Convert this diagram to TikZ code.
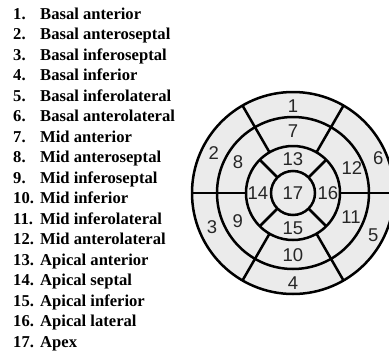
\documentclass[tikz,border=0pt]{standalone}
\usepackage{fontspec}
\setmainfont{Liberation Serif}
\newfontfamily\segfont{Liberation Sans}
\usetikzlibrary{positioning}

\begin{document}
\begin{tikzpicture}[x=1pt,y=1pt,
  ring/.style={line width=2.5pt},
  segnum/.style={font=\segfont\fontsize{18.5}{19}\selectfont,text=black!85,inner sep=0pt},
  item/.style={font=\bfseries\fontsize{16.6}{17}\selectfont,anchor=base west,inner sep=0pt}]
  \useasboundingbox (0,0) rectangle (389,-354);
  \clip (0,0) rectangle (389,-354);
  % list of the 17 segments
  \foreach \t [count=\i] in {Basal anterior,Basal anteroseptal,Basal inferoseptal,Basal inferior,
      Basal inferolateral,Basal anterolateral,Mid anterior,Mid anteroseptal,Mid inferoseptal,
      Mid inferior,Mid inferolateral,Mid anterolateral,Apical anterior,Apical septal,
      Apical inferior,Apical lateral,Apex}
    \node[item] (l\i) at (13,{-19-20.5*(\i-1)}) {\makebox[27pt][l]{\i.}\t};
  % bull's eye
  \coordinate (c) at (293,-193);
  \fill[black!8] (c) circle (101);
  \draw[ring] (c) circle (101) (c) circle (76) (c) circle (47) (c) circle (22);
  \foreach \a in {0,60,120,180,240,300}
    \draw[ring] ([shift={(\a:47)}]c) -- ([shift={(\a:101)}]c);
  \foreach \a in {45,135,225,315}
    \draw[ring] ([shift={(\a:22)}]c) -- ([shift={(\a:47)}]c);
  \foreach \k/\a/\r in {1/90/87,2/153/89,3/203/88,4/270/90,5/332/91,6/22/92,
      7/90/62,8/151/63,9/207/62,10/270/62,11/337/63,12/23/64,
      13/90/34,14/180/35,15/270/35,16/0/35}
    \node[segnum] (s\k) at ([shift={(\a:\r)}]c) {\k};
  \node[segnum] (s17) at (c) {17};
\end{tikzpicture}
\end{document}
